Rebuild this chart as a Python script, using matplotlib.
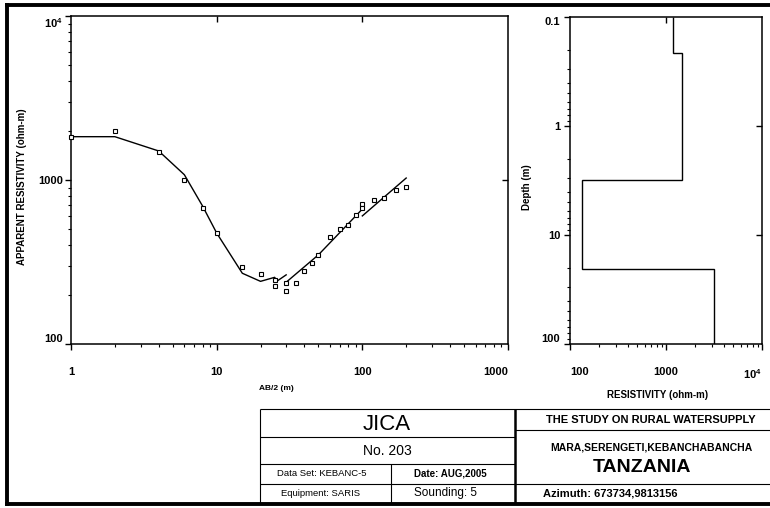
import matplotlib
matplotlib.use("Agg")
import matplotlib.pyplot as plt
from matplotlib.lines import Line2D
from matplotlib.ticker import LogLocator, NullFormatter, NullLocator

plt.rcParams["font.family"] = ["Liberation Sans", "DejaVu Sans"]
plt.rcParams["mathtext.fontset"] = "custom"
plt.rcParams["mathtext.rm"] = "Liberation Sans"
plt.rcParams["mathtext.bf"] = "Liberation Sans:bold"

W, H = 770, 508

# field data (AB/2 in m, apparent resistivity in ohm-m)
ab2 = [1, 2, 4, 6, 8, 10, 15, 20, 25, 25, 30, 30, 35, 40, 45, 50, 60, 70,
       80, 90, 100, 100, 120, 140, 170, 200]
rho_a = [1837, 1990, 1476, 1000, 672, 473, 296, 267, 244, 226, 235, 210, 235,
         280, 314, 349, 448, 502, 534, 609, 711, 672, 755, 776, 873, 906]

# calculated curve, three segments
seg1_x = [1, 2, 4, 6, 8, 10, 15, 20, 25, 26, 30]
seg1_y = [1837, 1837, 1503, 1077, 694, 475, 270, 241, 255, 242, 264]
seg2_x = [30, 50, 100]
seg2_y = [238, 350, 665]
seg3_x = [100, 200]
seg3_y = [604, 1028]

# layered model
layer_rho = [1191, 1480, 132, 3162]
layer_edges = [0.1, 0.215, 3.13, 20.6, 100]

x_ticks1 = [1, 10, 100, 1000]
x_labels1 = ["1", "10", "100", "1000"]
y_ticks1 = [100, 1000, 10000]
y_labels1 = ["100", "1000", r"$\mathbf{10^{4}}$"]
x_ticks2 = [100, 1000, 10000]
x_labels2 = ["100", "1000", r"$\mathbf{10^{4}}$"]
y_ticks2 = [0.1, 1, 10, 100]
y_labels2 = ["0.1", "1", "10", "100"]


def fx(px):
    return px / W


def fy(py):
    return 1 - py / H


def axes_rect(x0, y0, x1, y1):
    return [fx(x0), fy(y1), fx(x1) - fx(x0), fy(y0) - fy(y1)]


def style_log_axes(ax):
    for s in ax.spines.values():
        s.set_linewidth(1.1)
    ax.tick_params(which="major", direction="out", length=4.5, width=1.0,
                   top=False, right=False)
    ax.tick_params(which="minor", direction="out", length=2.5, width=0.8,
                   top=False, right=False)
    ax.xaxis.set_minor_locator(LogLocator(base=10, subs=range(2, 10)))
    ax.yaxis.set_minor_locator(LogLocator(base=10, subs=range(2, 10)))
    ax.xaxis.set_minor_formatter(NullFormatter())
    ax.yaxis.set_minor_formatter(NullFormatter())


def inner_ticks(ax, xt, yt):
    tx = ax.twiny()
    tx.set_xscale("log")
    tx.set_xlim(ax.get_xlim())
    tx.set_xticks(xt)
    tx.xaxis.set_minor_locator(NullLocator())
    tx.tick_params(direction="in", length=4.5, width=1.0, labeltop=False)
    ty = ax.twinx()
    ty.set_yscale("log")
    ty.set_ylim(ax.get_ylim())
    ty.set_yticks(yt)
    ty.yaxis.set_minor_locator(NullLocator())
    ty.tick_params(direction="in", length=4.5, width=1.0, labelright=False)
    for t in (tx, ty):
        for s in t.spines.values():
            s.set_visible(False)


fig = plt.figure(figsize=(W / 100, H / 100), dpi=100)

# ---- apparent resistivity curve ----
ax1 = fig.add_axes(axes_rect(71, 16, 508, 344))
ax1.set_xscale("log")
ax1.set_yscale("log")
ax1.plot(seg1_x, seg1_y, color="black", lw=1.0)
ax1.plot(seg2_x, seg2_y, color="black", lw=1.0)
ax1.plot(seg3_x, seg3_y, color="black", lw=1.0)
ax1.plot(ab2, rho_a, ls="none", marker="s", ms=3.4, mfc="white",
         mec="black", mew=0.8, clip_on=False, zorder=3)
ax1.set_xlim(1, 1000)
ax1.set_ylim(100, 10000)
style_log_axes(ax1)
ax1.set_xticks(x_ticks1, labels=x_labels1, fontsize=8, fontweight="bold")
ax1.set_yticks(y_ticks1, labels=y_labels1, fontsize=8, fontweight="bold")
ax1.tick_params(axis="x", which="major", pad=12)
ax1.tick_params(axis="y", which="major", pad=1.5)
ax1.get_xticklabels()[-1].set_ha("right")
ax1.get_yticklabels()[0].set_va("bottom")
ax1.get_yticklabels()[-1].set_va("top")
ax1.set_xlabel("AB/2 (m)", fontsize=6, fontweight="bold")
ax1.xaxis.set_label_coords(0.471, -0.125)
ax1.set_ylabel("APPARENT RESISTIVITY (ohm-m)", fontsize=7, fontweight="bold")
ax1.yaxis.set_label_coords(-0.10, 0.48)
inner_ticks(ax1, [10, 100], [1000])

# ---- layered model ----
ax2 = fig.add_axes(axes_rect(570, 17, 762, 344))
ax2.set_xscale("log")
ax2.set_yscale("log")
ax2.stairs(layer_rho, layer_edges, orientation="horizontal", baseline=None,
           color="black", lw=1.0)
ax2.set_xlim(100, 10000)
ax2.set_ylim(100, 0.1)
style_log_axes(ax2)
ax2.set_xticks(x_ticks2, labels=x_labels2, fontsize=8, fontweight="bold")
ax2.set_yticks(y_ticks2, labels=y_labels2, fontsize=8, fontweight="bold")
ax2.tick_params(axis="x", which="major", pad=12)
ax2.tick_params(axis="y", which="major", pad=2.5)
ax2.get_xticklabels()[0].set_ha("left")
ax2.get_xticklabels()[-1].set_ha("right")
ax2.get_yticklabels()[0].set_va("top")
ax2.get_yticklabels()[-1].set_va("bottom")
ax2.set_xlabel("RESISTIVITY (ohm-m)", fontsize=7, fontweight="bold")
ax2.xaxis.set_label_coords(0.458, -0.141)
ax2.set_ylabel("Depth (m)", fontsize=7, fontweight="bold")
ax2.yaxis.set_label_coords(-0.20, 0.48)
inner_ticks(ax2, [1000], [1, 10])


# ---- frame and title block ----
def hline(y, x0, x1, lw=0.8):
    fig.add_artist(Line2D([fx(x0), fx(x1)], [fy(y), fy(y)], color="black",
                          lw=lw, solid_capstyle="butt"))


def vline(x, y0, y1, lw=0.8):
    fig.add_artist(Line2D([fx(x), fx(x)], [fy(y0), fy(y1)], color="black",
                          lw=lw, solid_capstyle="butt"))


hline(5, 5, 770, lw=2.8)
vline(7, 3, 506, lw=2.8)
hline(504, 5, 770, lw=2.8)

hline(409, 260, 770)
hline(437, 260, 515)
hline(464, 260, 515)
hline(484, 260, 515)
hline(430, 515, 770)
hline(484, 515, 770)
vline(260, 409, 504)
vline(391, 464, 504)
vline(515, 409, 504, lw=1.8)


def label(px, py, s, size, weight="normal", ha="center"):
    fig.text(fx(px), fy(py), s, fontsize=size, fontweight=weight, ha=ha,
             va="center")


label(387, 424, "JICA", 16)
label(387, 451, "No. 203", 10)
label(322, 474, "Data Set: KEBANC-5", 6.8)
label(450, 474, "Date: AUG,2005", 7, "bold")
label(321, 493, "Equipment: SARIS", 6.8)
label(445, 493, "Sounding: 5", 8.5)
label(651, 420, "THE STUDY ON RURAL WATERSUPPLY", 8, "bold")
label(651, 447, "MARA,SERENGETI,KEBANCHABANCHA", 7.5, "bold")
label(642, 468, "TANZANIA", 14, "bold")
label(543, 493, "Azimuth: 673734,9813156", 8, "bold", ha="left")

fig.savefig("out.png", dpi=100)
